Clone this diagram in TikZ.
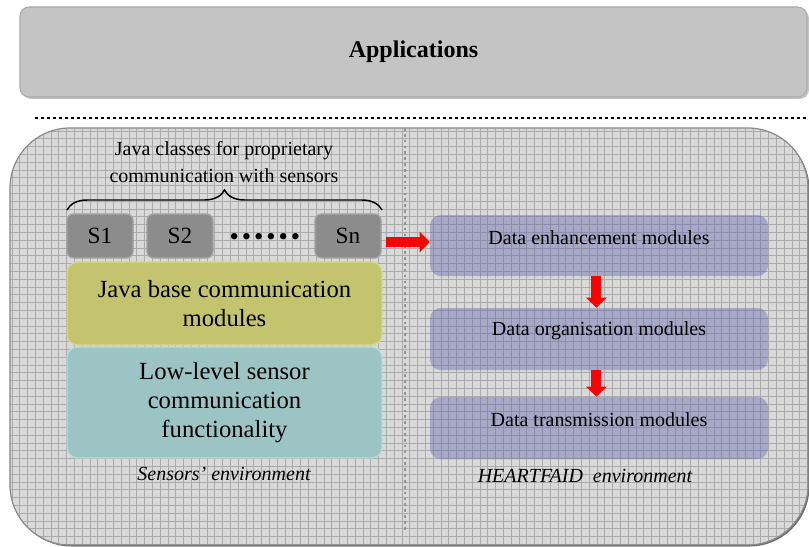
\documentclass[tikz,border=0pt]{standalone}
\usepackage{fontspec}
\setmainfont{Liberation Serif}
\usetikzlibrary{arrows.meta,decorations.pathreplacing,calc}

\definecolor{appfill}{HTML}{C4C4C4}
\definecolor{appedge}{HTML}{ABABAB}
\definecolor{envfill}{HTML}{D9D9D9}
\definecolor{gridline}{HTML}{ABABAB}
\definecolor{envedge}{HTML}{8A8A8A}
\definecolor{envshadow}{HTML}{6E6E6E}
\definecolor{sfill}{HTML}{8C8C8C}
\definecolor{sedge}{HTML}{A2A2A2}
\definecolor{yfill}{HTML}{C4C46E}
\definecolor{yedge}{HTML}{D6D68A}
\definecolor{tfill}{HTML}{9CC4C4}
\definecolor{tedge}{HTML}{B4DCDC}
\definecolor{pfill}{HTML}{6262AE}
\definecolor{flowred}{HTML}{FF0000}

\tikzset{
  sized/.style 2 args={minimum width=#1*0.75pt, minimum height=#2*0.75pt, inner sep=0pt},
  appbox/.style={draw=appedge, line width=0.8pt, fill=appfill, rounded corners=7pt},
  sbox/.style={draw=sedge, line width=1pt, fill=sfill, rounded corners=5pt,
    font=\fontsize{17.5}{21}\selectfont},
  ybox/.style={draw=yedge, line width=1pt, fill=yfill, rounded corners=8pt, align=center,
    font=\fontsize{18.5}{22}\selectfont},
  tbox/.style={draw=tedge, line width=1pt, fill=tfill, rounded corners=8pt, align=center,
    font=\fontsize{18.5}{22}\selectfont},
  pbox/.style={fill=pfill, fill opacity=0.42, rounded corners=8pt},
  ptext/.style={font=\fontsize{15}{18}\selectfont},
  envlabel/.style={font=\fontsize{15}{18}\selectfont\itshape},
  flow/.style={draw=flowred, line width=7.5pt,
    -{Triangle[width=15pt,length=7.5pt]}},
}

\begin{document}
\begin{tikzpicture}[x=0.75pt,y=-0.75pt]
\useasboundingbox (0,0) rectangle (809,546);

% application layer
\fill[appedge!70, rounded corners=7pt] (22,9) rectangle (809,99);
\node[appbox, sized={787}{90}] (app) at (413.5,52)
  {\fontsize{18}{22}\selectfont\bfseries Applications};

% separator between the application layer and the middleware
\draw[line width=2.2pt, dash pattern=on 2.2pt off 2.3pt] (35,118) -- (806,118);

% middleware environment with its grid texture
\fill[envshadow, rounded corners=45pt] (11.5,129.5) rectangle (809.5,546.5);
\begin{scope}
  \clip[rounded corners=45pt] (10,128) rectangle (808,545);
  \fill[envfill] (10,128) rectangle (808,545);
  \foreach \gx in {12,19.8,...,808} \draw[gridline, line width=0.6pt] (\gx,128) -- (\gx,545);
  \foreach \gy in {131,138.8,...,545} \draw[gridline, line width=0.6pt] (10,\gy) -- (808,\gy);
\end{scope}
\draw[envedge, line width=0.9pt, rounded corners=45pt] (10,128) rectangle (808,545);

% divider between the two environments
\draw[gray!85, line width=2pt, dash pattern=on 2pt off 2.4pt] (405,128) -- (405,530);

% sensor side
\node[font=\fontsize{15}{20}\selectfont, align=center] (jc) at (224,162)
  {Java classes for proprietary\\communication with sensors};
\coordinate (brl) at (67,210);
\coordinate (brr) at (382,210);
\draw[line width=1.1pt, decorate, decoration={brace, amplitude=15pt}] (brl) -- (brr);

\node[sbox, sized={66}{44}] (s1) at (100,236) {S1};
\node[sbox, sized={66}{44}] (s2) at (180,236) {S2};
\node[sbox, sized={66}{44}] (sn) at (348,236) {Sn};
\node[font=\fontsize{20}{22}\selectfont] (dots) at (265,239)
  {\textbullet\hspace{2.2pt}\textbullet\hspace{2.2pt}\textbullet\hspace{2.2pt}\textbullet\hspace{2.2pt}\textbullet\hspace{2.2pt}\textbullet};

\node[ybox, sized={315}{83}] (jb) at (224.5,303.5)
  {Java base communication\\modules};
\node[tbox, sized={315}{111}] (ll) at (224.5,402.5)
  {Low-level sensor\\communication\\functionality};
\node[envlabel] (senv) at (224,474) {Sensors' environment};

% HEARTFAID side
\node[pbox, sized={338}{61}] (enh) at (599,245.5) {};
\node[pbox, sized={338}{62}] (org) at (599,339) {};
\node[pbox, sized={338}{62}] (trn) at (599,428) {};
\node[ptext] (enht) at ($(enh.north)+(0,23)$) {Data enhancement modules};
\node[ptext] (orgt) at ($(org.north)+(0,23)$) {Data organisation modules};
\node[ptext] (trnt) at ($(trn.north)+(0,23)$) {Data transmission modules};
\node[envlabel] (henv) at (585,476) {HEARTFAID\ \ environment};

% data flow
\draw[flow] ($(sn.east)+(4,6)$) -- ($(enh.west)+(0,-3.5)$);
\draw[flow] ([xshift=-2pt]enh.south) -- ([xshift=-2pt]org.north);
\draw[flow] ([xshift=-2pt]org.south) -- ([xshift=-2pt]trn.north);
\end{tikzpicture}
\end{document}
